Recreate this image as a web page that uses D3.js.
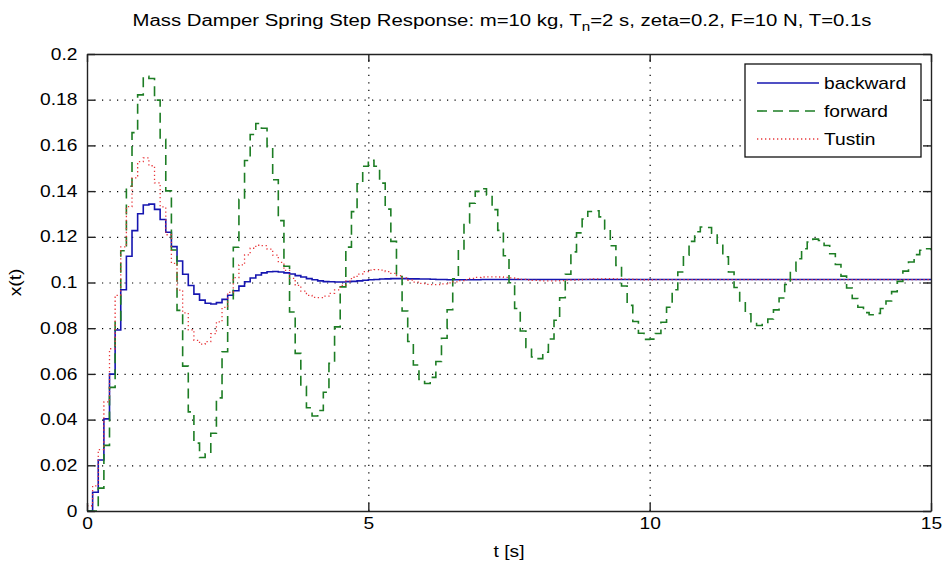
<!DOCTYPE html>
<html>
<head>
<meta charset="utf-8">
<script src="https://cdn.jsdelivr.net/npm/d3@7"></script>
<style>
  body { margin: 0; background: #fff; }
  svg { display: block; }
  text { font-family: "Liberation Sans", Arial, Helvetica, sans-serif; fill: #000; }
</style>
</head>
<body>
<svg id="chart" width="944" height="569"></svg>
<script>
// ---------------- data ----------------
const sampleTime = 0.1;                 // T = 0.1 s
const xTicks = [0, 5, 10, 15];
const xTickLabels = ["0", "5", "10", "15"];
const yTicks = [0, 0.02, 0.04, 0.06, 0.08, 0.1, 0.12, 0.14, 0.16, 0.18, 0.2];
const yTickLabels = ["0", "0.02", "0.04", "0.06", "0.08", "0.1", "0.12", "0.14", "0.16", "0.18", "0.2"];
const seriesNames = ["backward", "forward", "Tustin"];

const backward = [
  0, 0.0082, 0.0223, 0.0403, 0.0599, 0.0792, 0.0968, 0.1115, 0.1227, 0.1301,
  0.1339, 0.1343, 0.1320, 0.1276, 0.1220, 0.1157, 0.1094, 0.1036, 0.0987, 0.0949,
  0.0923, 0.0909, 0.0906, 0.0912, 0.0926, 0.0944, 0.0964, 0.0984, 0.1003, 0.1020,
  0.1033, 0.1042, 0.1047, 0.1048, 0.1046, 0.1042, 0.1037, 0.1030, 0.1024, 0.1017,
  0.1012, 0.1007, 0.1004, 0.1003, 0.1002, 0.1002, 0.1004, 0.1005, 0.1007, 0.1010,
  0.1012, 0.1013, 0.1015, 0.1016, 0.1017, 0.1017, 0.1017, 0.1016, 0.1016, 0.1015,
  0.1015, 0.1014, 0.1013, 0.1013, 0.1012, 0.1012, 0.1012, 0.1012, 0.1012, 0.1012,
  0.1013, 0.1013, 0.1013, 0.1013, 0.1013, 0.1013, 0.1013, 0.1013, 0.1013, 0.1013,
  0.1013, 0.1013, 0.1013, 0.1013, 0.1013, 0.1013, 0.1013, 0.1013, 0.1013, 0.1013,
  0.1013, 0.1013, 0.1013, 0.1013, 0.1013, 0.1013, 0.1013, 0.1013, 0.1013, 0.1013,
  0.1013, 0.1013, 0.1013, 0.1013, 0.1013, 0.1013, 0.1013, 0.1013, 0.1013, 0.1013,
  0.1013, 0.1013, 0.1013, 0.1013, 0.1013, 0.1013, 0.1013, 0.1013, 0.1013, 0.1013,
  0.1013, 0.1013, 0.1013, 0.1013, 0.1013, 0.1013, 0.1013, 0.1013, 0.1013, 0.1013,
  0.1013, 0.1013, 0.1013, 0.1013, 0.1013, 0.1013, 0.1013, 0.1013, 0.1013, 0.1013,
  0.1013, 0.1013, 0.1013, 0.1013, 0.1013, 0.1013, 0.1013, 0.1013, 0.1013, 0.1013,
  0.1013
];

const forward = [
  0, 0, 0.0100, 0.0287, 0.0541, 0.0835, 0.1139, 0.1421, 0.1656, 0.1821,
  0.1902, 0.1893, 0.1798, 0.1627, 0.1401, 0.1142, 0.0878, 0.0634, 0.0434, 0.0297,
  0.0234, 0.0250, 0.0340, 0.0495, 0.0697, 0.0924, 0.1154, 0.1364, 0.1534, 0.1648,
  0.1696, 0.1675, 0.1590, 0.1450, 0.1271, 0.1071, 0.0871, 0.0690, 0.0546, 0.0452,
  0.0416, 0.0440, 0.0520, 0.0646, 0.0806, 0.0981, 0.1155, 0.1310, 0.1432, 0.1509,
  0.1535, 0.1509, 0.1435, 0.1321, 0.1180, 0.1026, 0.0875, 0.0742, 0.0639, 0.0576,
  0.0558, 0.0585, 0.0654, 0.0756, 0.0881, 0.1016, 0.1147, 0.1261, 0.1347, 0.1399,
  0.1410, 0.1383, 0.1319, 0.1228, 0.1117, 0.0999, 0.0886, 0.0788, 0.0716, 0.0674,
  0.0667, 0.0695, 0.0753, 0.0835, 0.0933, 0.1036, 0.1134, 0.1217, 0.1278, 0.1311,
  0.1314, 0.1287, 0.1234, 0.1161, 0.1075, 0.0985, 0.0900, 0.0829, 0.0778, 0.0751,
  0.0752, 0.0777, 0.0826, 0.0892, 0.0968, 0.1046, 0.1119, 0.1180, 0.1222, 0.1243,
  0.1241, 0.1216, 0.1172, 0.1113, 0.1046, 0.0978, 0.0915, 0.0863, 0.0828, 0.0812,
  0.0816, 0.0840, 0.0880, 0.0932, 0.0991, 0.1050, 0.1104, 0.1148, 0.1177, 0.1190,
  0.1184, 0.1162, 0.1126, 0.1079, 0.1028, 0.0976, 0.0930, 0.0892, 0.0868, 0.0859,
  0.0865, 0.0886, 0.0919, 0.0960, 0.1005, 0.1050, 0.1090, 0.1122, 0.1141, 0.1148,
  0.1141
];

const tustin = [
  0.0023, 0.0110, 0.0269, 0.0478, 0.0710, 0.0944, 0.1156, 0.1332, 0.1458, 0.1529,
  0.1545, 0.1511, 0.1436, 0.1331, 0.1209, 0.1084, 0.0967, 0.0867, 0.0793, 0.0747,
  0.0730, 0.0741, 0.0776, 0.0828, 0.0891, 0.0957, 0.1021, 0.1077, 0.1121, 0.1150,
  0.1163, 0.1161, 0.1146, 0.1120, 0.1088, 0.1053, 0.1018, 0.0987, 0.0962, 0.0944,
  0.0935, 0.0934, 0.0940, 0.0952, 0.0968, 0.0987, 0.1006, 0.1023, 0.1037, 0.1048,
  0.1054, 0.1056, 0.1054, 0.1048, 0.1040, 0.1030, 0.1020, 0.1011, 0.1002, 0.0996,
  0.0992, 0.0991, 0.0991, 0.0994, 0.0998, 0.1003, 0.1008, 0.1013, 0.1018, 0.1022,
  0.1024, 0.1025, 0.1025, 0.1024, 0.1022, 0.1020, 0.1017, 0.1014, 0.1011, 0.1009,
  0.1008, 0.1007, 0.1007, 0.1007, 0.1008, 0.1010, 0.1011, 0.1012, 0.1014, 0.1015,
  0.1016, 0.1016, 0.1017, 0.1017, 0.1016, 0.1015, 0.1015, 0.1014, 0.1013, 0.1012,
  0.1012, 0.1013, 0.1013, 0.1013, 0.1013, 0.1013, 0.1013, 0.1013, 0.1013, 0.1013,
  0.1013, 0.1013, 0.1013, 0.1013, 0.1013, 0.1013, 0.1013, 0.1013, 0.1013, 0.1013,
  0.1013, 0.1013, 0.1013, 0.1013, 0.1013, 0.1013, 0.1013, 0.1013, 0.1013, 0.1013,
  0.1013, 0.1013, 0.1013, 0.1013, 0.1013, 0.1013, 0.1013, 0.1013, 0.1013, 0.1013,
  0.1013, 0.1013, 0.1013, 0.1013, 0.1013, 0.1013, 0.1013, 0.1013, 0.1013, 0.1013,
  0.1013
];

// ---------------- layout ----------------
const svg = d3.select("#chart");
const plot = { left: 87, right: 931, top: 54, bottom: 511 };
const SX = 1.2;                   // horizontal stretch of the lettering
const FS = 16;

const x = d3.scaleLinear().domain([0, 15]).range([plot.left, plot.right]);
const y = d3.scaleLinear().domain([0, 0.2]).range([plot.bottom, plot.top]);

const styles = {
  backward: { color: "#1616b0", width: 1.6, dash: null },
  forward:  { color: "#1d7d24", width: 1.6, dash: "10,6" },
  Tustin:   { color: "#e8383c", width: 1.3, dash: "1.3,2.7" }
};

// ---------------- grid ----------------
const gridY = svg.append("g")
  .attr("transform", `translate(${plot.left},0)`)
  .call(d3.axisLeft(y).tickValues(yTicks.slice(1, -1)).tickSize(-(plot.right - plot.left)).tickFormat(""));
gridY.select(".domain").remove();
gridY.selectAll(".tick line").attr("stroke", "#000").attr("stroke-width", 1.2).attr("stroke-dasharray", "1.2,6.3");

const gridX = svg.append("g")
  .attr("transform", `translate(0,${plot.bottom})`)
  .call(d3.axisBottom(x).tickValues(xTicks.slice(1, -1)).tickSize(-(plot.bottom - plot.top)).tickFormat(""));
gridX.select(".domain").remove();
gridX.selectAll(".tick line").attr("stroke", "#000").attr("stroke-width", 1.2).attr("stroke-dasharray", "1.2,6.3");

// ---------------- series ----------------
const line = d3.line()
  .x((d, i) => x(i * sampleTime))
  .y(d => y(d))
  .curve(d3.curveStepAfter);

const seriesData = [backward, forward, tustin];
seriesData.forEach((vals, si) => {
  const st = styles[seriesNames[si]];
  svg.append("path")
    .datum(vals)
    .attr("fill", "none")
    .attr("stroke", st.color)
    .attr("stroke-width", st.width)
    .attr("stroke-dasharray", st.dash)
    .attr("d", line);
});

// ---------------- axes (box with inner ticks) ----------------
const axisColor = "#222";
function styleAxis(g) {
  g.select(".domain").attr("stroke", axisColor).attr("stroke-width", 1.4);
  g.selectAll(".tick line").attr("stroke", axisColor).attr("stroke-width", 1.4);
  g.selectAll(".tick text")
    .attr("font-size", FS)
    .attr("font-family", '"Liberation Sans", Arial, sans-serif')
    .attr("fill", "#000");
}

const xFmt = (d) => xTickLabels[xTicks.indexOf(d)];
const yFmt = (d) => yTickLabels[yTicks.indexOf(d)];

const axB = svg.append("g")
  .attr("transform", `translate(0,${plot.bottom})`)
  .call(d3.axisBottom(x).tickValues(xTicks).tickFormat(xFmt).tickSizeInner(-8).tickSizeOuter(0).tickPadding(7));
styleAxis(axB);
axB.selectAll(".tick text").attr("transform", `scale(${SX},1)`);

const axT = svg.append("g")
  .attr("transform", `translate(0,${plot.top})`)
  .call(d3.axisTop(x).tickValues(xTicks).tickFormat("").tickSizeInner(-8).tickSizeOuter(0));
styleAxis(axT);

const axL = svg.append("g")
  .attr("transform", `translate(${plot.left},0)`)
  .call(d3.axisLeft(y).tickValues(yTicks).tickFormat(yFmt).tickSizeInner(-8).tickSizeOuter(0).tickPadding(8));
styleAxis(axL);
axL.selectAll(".tick text").attr("transform", `scale(${SX},1)`);

const axR = svg.append("g")
  .attr("transform", `translate(${plot.right},0)`)
  .call(d3.axisRight(y).tickValues(yTicks).tickFormat("").tickSizeInner(-8).tickSizeOuter(0));
styleAxis(axR);

// ---------------- labels ----------------
const title = svg.append("text")
  .attr("x", 502).attr("y", 26)
  .attr("text-anchor", "middle")
  .attr("font-size", FS)
  .attr("textLength", 739)
  .attr("lengthAdjust", "spacingAndGlyphs");
title.append("tspan").text("Mass Damper Spring Step Response: m=10 kg, T");
title.append("tspan").attr("font-size", 12).attr("dy", 5).text("n");
title.append("tspan").attr("dy", -5).text("=2 s, zeta=0.2, F=10 N, T=0.1s");

svg.append("text")
  .attr("transform", `translate(${(plot.left + plot.right) / 2},557) scale(${SX},1)`)
  .attr("text-anchor", "middle")
  .attr("font-size", FS)
  .text("t [s]");

svg.append("text")
  .attr("transform", `translate(21,${(plot.top + plot.bottom) / 2}) rotate(-90) scale(${SX},1)`)
  .attr("text-anchor", "middle")
  .attr("font-size", FS)
  .text("x(t)");

// ---------------- legend ----------------
const leg = svg.append("g");
leg.append("rect")
  .attr("x", 745).attr("y", 64).attr("width", 176).attr("height", 93)
  .attr("fill", "#fff").attr("stroke", "#111").attr("stroke-width", 1.3);
seriesNames.forEach((name, i) => {
  const st = styles[name];
  const yy = 83 + i * 28;
  leg.append("line")
    .attr("x1", 757).attr("x2", 819).attr("y1", yy).attr("y2", yy)
    .attr("stroke", st.color).attr("stroke-width", st.width)
    .attr("stroke-dasharray", st.dash);
  leg.append("text")
    .attr("transform", `translate(824,${yy + 6}) scale(${SX},1)`)
    .attr("font-size", FS)
    .text(name);
});
</script>
</body>
</html>
